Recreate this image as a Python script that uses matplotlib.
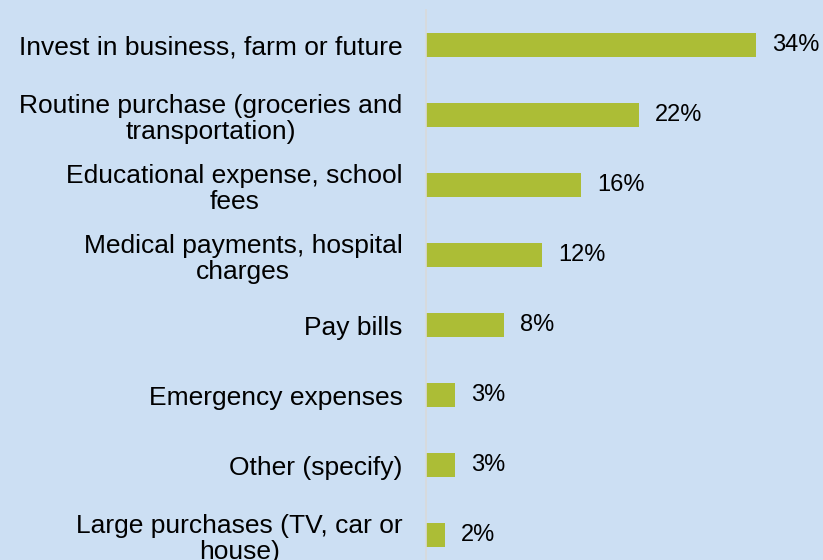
import matplotlib
matplotlib.use("Agg")
import matplotlib.pyplot as plt

categories = [
    "Invest in business, farm or future",
    "Routine purchase (groceries and\ntransportation)",
    "Educational expense, school\nfees",
    "Medical payments, hospital\ncharges",
    "Pay bills",
    "Emergency expenses",
    "Other (specify)",
    "Large purchases (TV, car or\nhouse)",
]
values = [34, 22, 16, 12, 8, 3, 3, 2]
value_labels = ["34%", "22%", "16%", "12%", "8%", "3%", "3%", "2%"]

BG = "#CCDFF3"
BAR = "#ACBD36"

plt.rcParams['font.family'] = ['Liberation Sans', 'DejaVu Sans']

W, H = 823, 560
fig = plt.figure(figsize=(W / 100, H / 100), dpi=100, facecolor=BG)
ax = fig.add_axes([426 / W, 0, 388 / W, 1 - 10 / H])
ax.set_facecolor(BG)

pos = list(range(len(categories)))
ax.barh(pos, values, height=0.343, color=BAR)
ax.set_xlim(0, 40)
ax.set_ylim(7.357, -0.5)

ax.set_yticks(pos)
ax.set_yticklabels(categories, fontsize=19, multialignment='center',
                   linespacing=1.13)
ax.tick_params(axis='y', length=0, pad=17)
ax.set_xticks([])
for s in ['top', 'right', 'bottom']:
    ax.spines[s].set_visible(False)
ax.spines['left'].set_color('#D9D9D9')
ax.spines['left'].set_linewidth(1.2)

for p, v, lab in zip(pos, values, value_labels):
    ax.annotate(lab, xy=(v, p), xytext=(11.5, 0), textcoords='offset points',
                va='center', ha='left', fontsize=17, color='black',
                annotation_clip=False)

fig.savefig("out.png", dpi=100, facecolor=BG)
